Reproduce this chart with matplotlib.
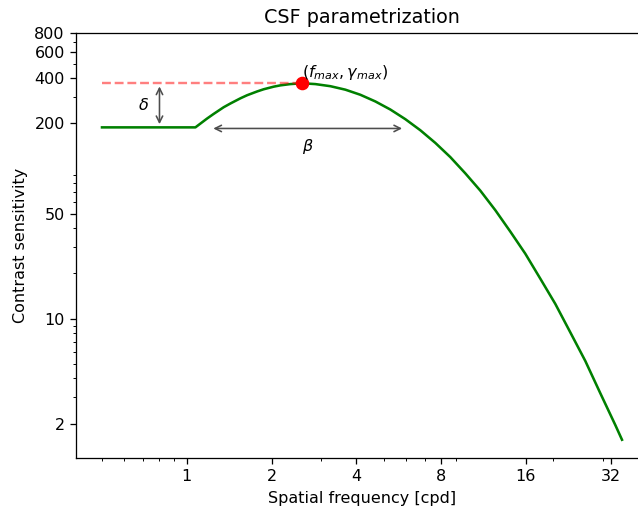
import numpy as np
import matplotlib
matplotlib.use('Agg')
import matplotlib.pyplot as plt

# CSF curve sampled along the truncated log-parabola (cpd, sensitivity)
freq = [0.5, 1.073, 1.180, 1.246, 1.352, 1.428, 1.550, 1.637, 1.777, 1.875,
        2.035, 2.149, 2.332, 2.573, 2.861, 3.234, 3.656, 4.133, 4.672, 5.281,
        5.971, 6.749, 7.630, 8.625, 9.751, 11.02, 12.46, 14.09, 15.92, 18.00,
        20.35, 23.00, 26.00, 29.39, 33.23, 35.10]
sens = [188.1, 188.1, 215.3, 231.3, 256.2, 271.2, 293.7, 307.9, 326.3, 337.5,
        351.2, 358.3, 365.4, 370.0, 365.4, 353.8, 335.4, 310.2, 280.0, 247.4,
        213.3, 180.0, 148.2, 119.2, 92.9, 71.3, 52.8, 38.0, 27.1, 18.47,
        12.54, 8.11, 5.23, 3.19, 1.957, 1.561]

f_max = 2.573
gamma_max = 370
s_plateau = 188.1
f_low = 0.5
beta_lo, beta_hi = 1.21, 5.97
delta_f = 0.8

xticks = [1, 2, 4, 8, 16, 32]
yticks = [2, 10, 50, 200, 400, 600, 800]

dpi = 115
fig = plt.figure(figsize=(638/dpi, 514/dpi), dpi=dpi)
ax = fig.add_axes([76/638, 56/514, 572/638, 425/514])

ax.plot(freq, sens, c='g', linewidth=1.6)
ax.plot([f_low, f_max], [gamma_max, gamma_max], c='r', alpha=0.5,
        linestyle='--', linewidth=1.5)
ax.plot(f_max, gamma_max, 'o', c='r', markersize=7.5)
ax.text(f_max, 434, r'$(f_{max}, \gamma_{max})$', ha='left', va='center')

# delta: drop from the peak down to the low-frequency plateau
ax.annotate('', xy=(delta_f, s_plateau), xytext=(delta_f, gamma_max),
            arrowprops=dict(arrowstyle='<->', color='0.3'))
ax.text(0.7, np.sqrt(s_plateau*gamma_max), r'$\delta$', ha='center', va='center')

# beta: bandwidth at half maximum
ax.annotate('', xy=(beta_lo, 185), xytext=(beta_hi, 185),
            arrowprops=dict(arrowstyle='<->', color='0.3'))
ax.text(np.sqrt(beta_lo*beta_hi), 141, r'$\beta$', ha='center', va='center')

ax.set_xscale('log')
ax.set_yscale('log')
ax.set_xticks(xticks)
ax.set_xticklabels([str(t) for t in xticks])
ax.set_yticks(yticks)
ax.set_yticklabels([str(t) for t in yticks])
ax.set_ylim(1.18, 800)

ax.set_xlabel('Spatial frequency [cpd]')
ax.set_ylabel('Contrast sensitivity')
ax.set_title('CSF parametrization')

plt.savefig('out.png', dpi=dpi)
